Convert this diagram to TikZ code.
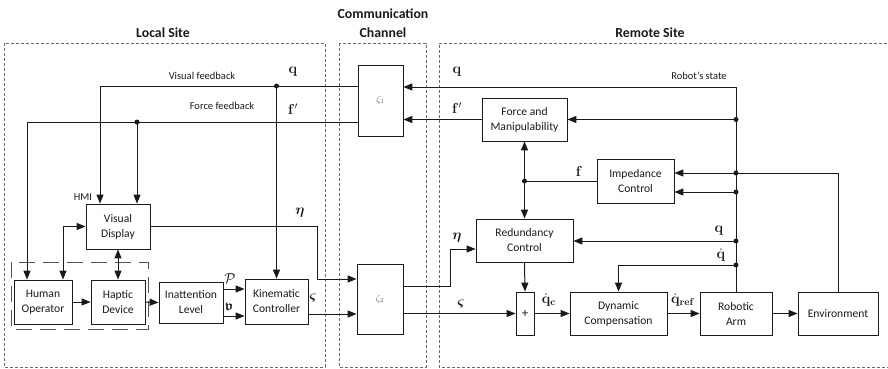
\documentclass[tikz,border=0pt]{standalone}
\usepackage{amsmath,amssymb,bm}
\usepackage[no-math]{fontspec}
\setmainfont{Carlito}
\usetikzlibrary{arrows.meta,calc}
\definecolor{ln}{HTML}{1A1A1A}
\definecolor{rg}{HTML}{6A6A6A}
\tikzset{
  blk/.style={draw=ln, line width=0.8pt, align=center, inner sep=0pt,
    font=\fontsize{11.6}{15}\selectfont, text=ln},
  region/.style={draw=rg, line width=0.9pt, dash pattern=on 3pt off 2pt},
  grp/.style={draw=rg!80!black, line width=0.8pt, dash pattern=on 16pt off 8pt},
  wire/.style={draw=ln, line width=1pt},
  arr/.style={wire, -{Triangle[length=9pt,width=7pt]}},
  darr/.style={wire, {Triangle[length=9pt,width=7pt]}-{Triangle[length=9pt,width=7pt]}},
  dot/.style={circle, fill=ln, inner sep=0pt, minimum size=5pt},
  ttl/.style={font=\bfseries\fontsize{13.8}{19}\selectfont, text=ln, align=center},
  sml/.style={font=\fontsize{10.5}{12}\selectfont, text=ln},
  sym/.style={font=\fontsize{14}{16}\selectfont, text=ln, inner sep=0pt},
  zlab/.style={font=\small, text=ln!70}
}
\begin{document}
\begin{tikzpicture}[x=1pt,y=-1pt]
\useasboundingbox (0,0) rectangle (888,369);
% regions
\draw[region] (4,43) rectangle (325,367);
\draw[region] (339,43) rectangle (426,367);
\draw[region] (892,43) -- (439,43) -- (439,367) -- (892,367);
\node[ttl] (tl) at (163,33) {Local Site};
\node[ttl] (tc) at (383,23.5) {Communication\\Channel};
\node[ttl] (tr) at (650,33) {Remote Site};
% boxes local
\node[blk, minimum width=64pt, minimum height=45pt] (VD) at (118,226.5) {Visual\\Display};
\node[blk, minimum width=58pt, minimum height=44pt] (HO) at (43,302) {Human\\Operator};
\node[blk, minimum width=54pt, minimum height=44pt] (HD) at (118,302) {Haptic\\Device};
\node[blk, minimum width=64pt, minimum height=41pt] (IL) at (191,302.5) {Inattention\\Level};
\node[blk, minimum width=63pt, minimum height=45pt] (KC) at (276.5,301.5) {Kinematic\\Controller};
\draw[grp] (11,262) rectangle (148,329);
\node[sml] (hmi) at (83,197) {HMI};
% channel
\node[blk, minimum width=45pt, minimum height=71pt] (Z1) at (380.5,100.5) {};
\node[zlab] (z1l) at (Z1.center) {$\zeta_1$};
\node[blk, minimum width=46pt, minimum height=70pt] (Z2) at (380,299) {};
\node[zlab] (z2l) at (Z2.center) {$\zeta_2$};
% remote
\node[blk, minimum width=85pt, minimum height=43pt] (FM) at (524.5,119.5) {Force and\\Manipulability};
\node[blk, minimum width=77pt, minimum height=44pt] (IC) at (635.5,181) {Impedance\\Control};
\node[blk, minimum width=97pt, minimum height=43pt] (RC) at (524.5,240.5) {Redundancy\\Control};
\node[blk, minimum width=18pt, minimum height=43pt, font=\fontsize{13}{15}\selectfont] (PL) at (525,313.5) {+};
\node[blk, minimum width=97pt, minimum height=43pt] (DC) at (618.5,313.5) {Dynamic\\Compensation};
\node[blk, minimum width=72pt, minimum height=43pt] (RA) at (736,313.5) {Robotic\\Arm};
\node[blk, minimum width=80pt, minimum height=43pt] (EN) at (838,313.5) {Environment};
% remote bus
\coordinate (bt) at (736,87);
\coordinate (j1) at (736,119.5);
\coordinate (j2) at (736,173);
\coordinate (j3) at (736,192);
\coordinate (j4) at (736,241);
\coordinate (j5) at (736,265);
\draw[arr] (RA.north) -- (bt) -- (bt -| Z1.east);
\draw[arr] (j1) -- (j1 -| FM.east);
\draw[arr] (FM.west) -- (FM.west -| Z1.east);
\draw[arr] (EN.north) |- (j2 -| IC.east);
\draw[arr] (j3) -- (j3 -| IC.east);
\draw[arr] (j4) -- (j4 -| RC.east);
\draw[arr] (j5) -| (DC.north);
\foreach \j in {j1,j2,j3,j4,j5} \node[dot] at (\j) {};
\coordinate (jf) at (FM.south |- IC.west);
\draw[wire] (IC.west) -- (jf);
\draw[darr] (FM.south) -- (RC.north);
\node[dot] at (jf) {};
\draw[arr] (RC.south) -- (PL.north);
\coordinate (zeo) at ($(Z2.east)+(0,-13)$);
\coordinate (rcin) at ($(RC.west)+(0,8.5)$);
\draw[arr] (zeo) -- (450,286) |- (rcin);
\draw[arr] (Z2.east |- PL.west) -- (PL.west);
\draw[arr] (PL.east) -- (DC.west);
\draw[arr] (DC.east) -- (RA.west);
\draw[arr] (RA.east) -- (EN.west);
% local wiring
\coordinate (z1a) at ($(Z1.west)+(0,-14.5)$);
\coordinate (z1b) at ($(Z1.west)+(0,21.5)$);
\coordinate (vfx) at ($(VD.north)+(-18,0)$);
\coordinate (ffx) at ($(VD.north)+(19,0)$);
\coordinate (vq) at (z1a -| KC.north);
\coordinate (ff) at (z1b -| ffx);
\coordinate (hox) at ($(HO.north)+(-16,0)$);
\draw[arr] (z1a) -| (vfx);
\draw[arr] (vq) -- (KC.north);
\node[dot] at (vq) {};
\draw[arr] (z1b) -| (hox);
\draw[arr] (ff) -- (ffx);
\node[dot] at (ff) {};
\draw[darr] (VD.west) -| ($(HO.north)+(20,0)$);
\draw[darr] (VD.south) -- (HD.north);
\draw[arr] (HO.east) -- (HD.west);
\draw[arr] (HD.east) -- (IL.west);
\draw[arr] ($(IL.east)+(0,-13.5)$) -- ($(KC.west)+(0,-12.5)$);
\draw[arr] ($(IL.east)+(0,13.5)$) -- ($(KC.west)+(0,14.5)$);
\draw[arr] ($(KC.east)+(0,12.5)$) -- ($(Z2.west)+(0,15)$);
\draw[arr] (VD.east) -- (317,226.5) |- ($(Z2.west)+(0,-20)$);
% labels
\node[sml] (lvf) at (202,76) {Visual feedback};
\node[sml] (lff) at (222,106) {Force feedback};
\node[sml] (lrs) at (699,76) {Robot's state};
\node[sym] (s1) at (293,72) {$\mathbf{q}$};
\node[sym] (s2) at (293,109) {$\mathbf{f}'$};
\node[sym] (s3) at (457,72) {$\mathbf{q}$};
\node[sym] (s4) at (457,108) {$\mathbf{f}'$};
\node[sym] (s5) at (579,171) {$\mathbf{f}$};
\node[sym] (s6) at (719,231) {$\mathbf{q}$};
\node[sym] (s7) at (721,255) {$\dot{\mathbf{q}}$};
\node[sym] (s8) at (300,213) {$\boldsymbol{\eta}$};
\node[sym] (s9) at (457,238) {$\boldsymbol{\eta}$};
\node[sym] (s10) at (313,298) {$\boldsymbol{\varsigma}$};
\node[sym] (s11) at (461,304) {$\boldsymbol{\varsigma}$};
\node[sym] (s12) at (230,279) {$\mathcal{P}$};
\node[sym] (s13) at (229,307) {$\boldsymbol{\mathfrak{v}}$};
\node[sym] (s14) at (549,300) {$\dot{\mathbf{q}}_{\mathbf{c}}$};
\node[sym] (s15) at (683,300) {$\dot{\mathbf{q}}_{\mathbf{ref}}$};
\end{tikzpicture}
\end{document}
